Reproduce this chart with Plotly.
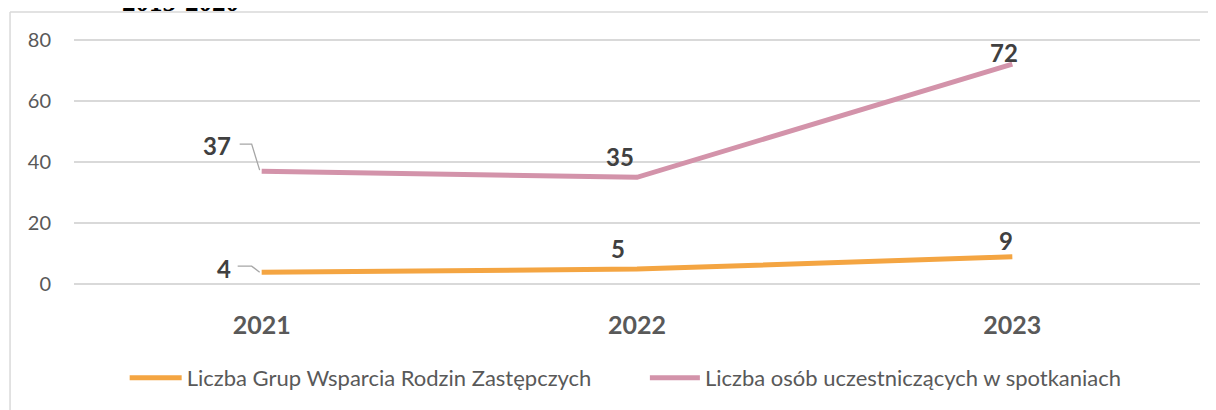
import plotly.graph_objects as go

years = ['2021', '2022', '2023']
grupy = [4, 5, 9]
osoby = [37, 35, 72]
series_names = ['Liczba Grup Wsparcia Rodzin Zastępczych',
                'Liczba osób uczestniczących w spotkaniach']
y_ticks = [0, 20, 40, 60, 80]
title_text = '2015-2020'

orange = '#F4A542'
pink = '#D393AA'
text_grey = '#404040'
axis_grey = '#595959'

fig = go.Figure()

fig.add_trace(go.Scatter(x=years, y=grupy, name=series_names[0], mode='lines',
                         line=dict(color=orange, width=5), legend='legend'))
fig.add_trace(go.Scatter(x=years, y=osoby, name=series_names[1], mode='lines',
                         line=dict(color=pink, width=5), legend='legend2'))

# data labels (positions offset in pixels from each point)
lab_font = dict(family='Lato, sans-serif', size=24, color=text_grey, weight='bold')
offsets_grupy = [(-38, 4), (-19, 21), (-6, 16)]
offsets_osoby = [(-45, 26), (-17, 21), (-8, 12)]
for vals, offs in [(grupy, offsets_grupy), (osoby, offsets_osoby)]:
    for i, (v, (dx, dy)) in enumerate(zip(vals, offs)):
        fig.add_annotation(x=i, y=v, text=str(v), showarrow=False,
                           xshift=dx, yshift=dy, font=lab_font)

# leader lines for the 2021 labels
for v, path in [(osoby[0], 'M -22,27 L -10,27 L -2,1'),
                (grupy[0], 'M -24,6 L -10,6 L -2,0')]:
    fig.add_shape(type='path', xref='x', yref='y', xsizemode='pixel', ysizemode='pixel',
                  xanchor=0, yanchor=v, path=path,
                  line=dict(color='#A6A6A6', width=1.3))

# chart frame (left + top edge visible)
fig.add_shape(type='line', xref='paper', yref='paper', x0=-0.0568, x1=-0.0568,
              y0=-0.6, y1=1.0906, line=dict(color='#D9D9D9', width=1.5))
fig.add_shape(type='line', xref='paper', yref='paper', x0=-0.0568, x1=1.02,
              y0=1.0906, y1=1.0906, line=dict(color='#D9D9D9', width=1.5))

# title, cut off at the very top as in the source
fig.add_annotation(xref='paper', yref='paper', x=0.095, y=1.062, xanchor='center',
                   yanchor='bottom', text='<b>' + title_text + '</b>', showarrow=False,
                   font=dict(family='Liberation Serif, serif', size=27, color='#000000'))

legend_font = dict(family='Lato, sans-serif', size=22, color=axis_grey)

# the page adds an 8px body margin, so the figure is 8px smaller than the window
fig.update_layout(
    width=1208, height=402,
    margin=dict(l=66, r=16, t=27, b=121, autoexpand=False),
    paper_bgcolor='white', plot_bgcolor='white',
    showlegend=True,
    legend=dict(orientation='h', x=0.045, xanchor='left', y=-0.268, yanchor='top',
                font=legend_font, itemwidth=52),
    legend2=dict(orientation='h', x=0.507, xanchor='left', y=-0.268, yanchor='top',
                 font=legend_font, itemwidth=50),
    xaxis=dict(type='category', range=[-0.5, 2.5], showgrid=False, showline=False,
               zeroline=False, automargin=False,
               tickfont=dict(family='Lato, sans-serif', size=25, color=axis_grey,
                             weight='bold'),
               ticks='', ticklabelstandoff=19, fixedrange=True),
    yaxis=dict(range=[-1.5, 81.5], tickvals=y_ticks, showgrid=True, gridcolor='#D9D9D9',
               gridwidth=1.5, zeroline=False, showline=False, automargin=False,
               tickfont=dict(family='Lato, sans-serif', size=20, color=axis_grey),
               ticklabelstandoff=22, fixedrange=True),
)

fig.write_html('out.html')
